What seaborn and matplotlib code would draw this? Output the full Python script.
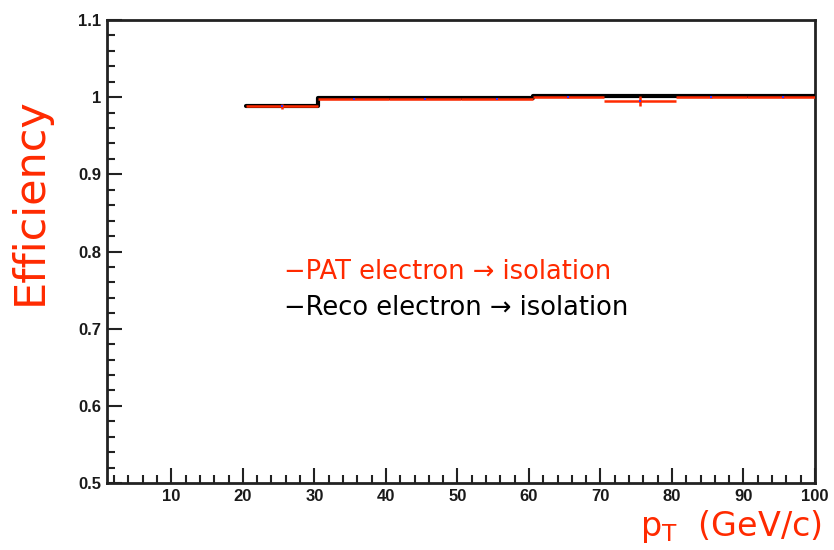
import numpy as np
import pandas as pd
import matplotlib
matplotlib.use("Agg")
import matplotlib.pyplot as plt
from matplotlib.ticker import MultipleLocator
import seaborn as sns

# data
bin_edges = [20.5, 30.5, 40.5, 50.5, 60.5, 70.5, 80.5, 90.5, 100.5]
reco_eff = [0.989, 0.9995, 0.9995, 0.9995, 1.001, 1.001, 1.001, 1.001]
reco_err = [0.001, 0.0005, 0.0005, 0.0005, 0.0005, 0.001, 0.0005, 0.0005]
pat_eff = [0.988, 0.998, 0.998, 0.998, 1.000, 0.995, 1.000, 1.000]
pat_err = [0.003, 0.001, 0.001, 0.001, 0.001, 0.007, 0.001, 0.001]
legend_labels = ["\u2212PAT electron \u2192 isolation", "\u2212Reco electron \u2192 isolation"]

sns.set_theme(style="white")
plt.rcParams['font.family'] = ['DejaVu Sans']

fig = plt.figure(figsize=(8.34, 5.5), dpi=100)
ax = fig.add_axes([0.1283, 0.1218, 0.8489, 0.8418])

edges = np.array(bin_edges, dtype=float)
centers = (edges[:-1] + edges[1:]) / 2
half = (edges[1:] - edges[:-1]) / 2

# Reco (black) step histogram
step_df = pd.DataFrame({"x": edges, "y": list(reco_eff) + [reco_eff[-1]]})
sns.lineplot(data=step_df, x="x", y="y", drawstyle="steps-post", color="black",
             linewidth=3, ax=ax, zorder=3)
ax.errorbar(centers, reco_eff, yerr=reco_err, fmt="none", ecolor="black", elinewidth=1.2, zorder=4)

# PAT (red) horizontal bins with errors
ax.errorbar(centers, pat_eff, xerr=half, yerr=pat_err, fmt="none", ecolor="#ff2a00",
            elinewidth=1.8, zorder=5)
sns.scatterplot(x=centers, y=pat_eff, color="#3333ff", s=4, marker="s", linewidth=0, ax=ax, zorder=6)

ax.set_xlim(1, 100)
ax.set_ylim(0.5, 1.1)
ax.xaxis.set_major_locator(MultipleLocator(10))
ax.xaxis.set_minor_locator(MultipleLocator(2))
ax.yaxis.set_major_locator(MultipleLocator(0.1))
ax.yaxis.set_minor_locator(MultipleLocator(0.02))

def yfmt(v, pos):
    s = f"{v:.1f}"
    return "1" if abs(v - 1) < 1e-9 else s
ax.yaxis.set_major_formatter(plt.FuncFormatter(yfmt))
ax.xaxis.set_major_formatter(plt.FuncFormatter(lambda v, p: "" if v < 5 else f"{int(round(v))}"))

for lbl in ax.get_xticklabels() + ax.get_yticklabels():
    lbl.set_fontfamily("Liberation Sans")
    lbl.set_fontweight("bold")
    lbl.set_fontsize(12)
    lbl.set_color("#1a1a1a")
ax.tick_params(axis="both", which="major", direction="in", length=11, width=1.5,
               color="#222222", pad=4, labelcolor="#1a1a1a")
ax.tick_params(axis="both", which="minor", direction="in", length=6, width=1.5,
               color="#222222")
ax.tick_params(axis="x", which="both", top=False, bottom=True)
ax.tick_params(axis="y", which="both", left=True, right=False)
for s in ax.spines.values():
    s.set_color("#222222")
    s.set_linewidth(2)

ax.set_xlabel("")
ax.set_ylabel("")
fig.text(0.036, 0.635, "Efficiency", rotation=90, color="#ff2a00", fontsize=31,
         ha="center", va="center")
fig.text(0.985, 0.042, r"$\mathregular{p_T}$  (GeV/c)", color="#ff2a00", fontsize=24,
         ha="right", va="center")

fig.text(0.34, 0.505, legend_labels[0], color="#ff2a00", fontsize=18.5, ha="left", va="center")
fig.text(0.34, 0.44, legend_labels[1], color="black", fontsize=18.5, ha="left", va="center")

fig.savefig("out.png", dpi=100)
